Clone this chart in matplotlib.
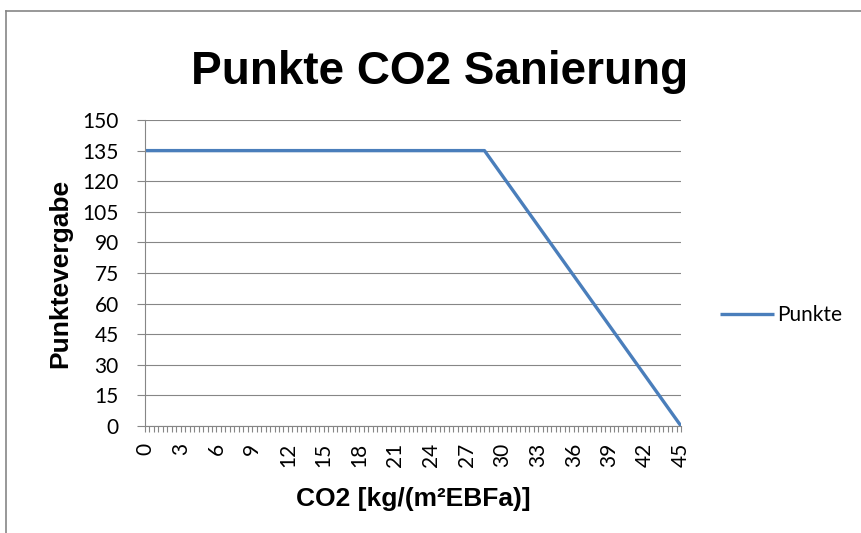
import matplotlib
matplotlib.use("Agg")
import matplotlib.pyplot as plt
from matplotlib.lines import Line2D
from matplotlib.ticker import MultipleLocator

# values
co2 = [0, 28.5, 45]
punkte = [135, 135, 0]
series_name = "Punkte"
title = "Punkte CO2 Sanierung"
x_label = "CO2 [kg/(m²EBFa)]"
y_label = "Punktevergabe"

W, H = 861, 533
grey = "#868686"
blue = "#4A7EBB"
bold_font = "Liberation Sans"
tick_font = "Lato"

fig = plt.figure(figsize=(W / 100, H / 100), dpi=100)
ax = fig.add_axes([145 / W, 1 - 426 / H, 536 / W, 306 / H])

ax.plot(co2, punkte, color=blue, lw=2.4, label=series_name, solid_capstyle="butt")

ax.set_xlim(0, 45)
ax.set_ylim(0, 150)
ax.xaxis.set_major_locator(MultipleLocator(3))
ax.xaxis.set_minor_locator(MultipleLocator(0.375))
ax.yaxis.set_major_locator(MultipleLocator(15))

ax.grid(axis="y", color=grey, lw=0.8)
ax.set_axisbelow(True)
for side in ("top", "right"):
    ax.spines[side].set_visible(False)
for side in ("left", "bottom"):
    ax.spines[side].set_color(grey)
    ax.spines[side].set_linewidth(0.8)

ax.tick_params(axis="x", which="both", direction="out", length=4.3, width=0.8,
               color=grey, pad=8)
ax.tick_params(axis="y", direction="out", length=5.8, width=0.8, color=grey, pad=13)
for lab in ax.get_xticklabels():
    lab.set_rotation(90)
    lab.set_va("top")
    lab.set_ha("center")
    lab.set_fontfamily(tick_font)
    lab.set_fontsize(15)
for lab in ax.get_yticklabels():
    lab.set_fontfamily(tick_font)
    lab.set_fontsize(15)

fig.text(440 / W, 1 - 84 / H, title, ha="center", va="baseline",
         fontsize=33, fontweight="bold", family=bold_font)
fig.text(413 / W, 1 - 499 / H, x_label, ha="center", va="center",
         fontsize=19, fontweight="bold", family=bold_font)
fig.text(60 / W, 1 - 273 / H, y_label, ha="center", va="center", rotation=90,
         fontsize=19, fontweight="bold", family=bold_font)

fig.legend(loc="center left", bbox_to_anchor=(720 / W, 1 - 315 / H),
           frameon=False, borderpad=0, borderaxespad=0, handlelength=2.6,
           handletextpad=0.15, prop={"family": tick_font, "size": 15})

# chart area frame, cut off at right and bottom
fig.add_artist(Line2D([6 / W, 1], [1 - 11 / H, 1 - 11 / H], color=grey, lw=1.2))
fig.add_artist(Line2D([6 / W, 6 / W], [0, 1 - 11 / H], color=grey, lw=1.2))

fig.savefig("out.png", dpi=100)
